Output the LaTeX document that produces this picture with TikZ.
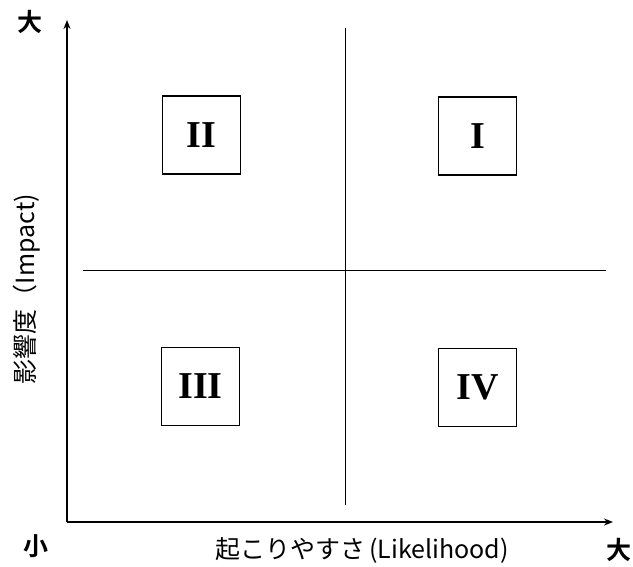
\documentclass[tikz,border=0pt]{standalone}
\usepackage{fontspec}
\setmainfont{Liberation Serif}
\newfontfamily\jpfont{Noto Sans CJK JP}[BoldFont={* Bold}]
\usetikzlibrary{arrows.meta}
\begin{document}
\begin{tikzpicture}[x=1pt,y=-1pt,
  axis/.style={line width=2.6pt,-{Stealth[length=9pt,width=7pt]}},
  divider/.style={line width=0.9pt},
  quadbox/.style={draw,line width=1.8pt,minimum width=78pt,minimum height=78pt,
    inner sep=0pt,font=\fontsize{38}{38}\selectfont\bfseries},
  axislabel/.style={font=\jpfont\fontsize{25}{25}\selectfont,inner sep=0pt},
  endlabel/.style={font=\jpfont\bfseries\fontsize{25}{25}\selectfont,inner sep=0pt}]
\useasboundingbox (0,0) rectangle (633,566);
% axes
\coordinate (origin) at (67,522);
\coordinate (ytip) at (67,20);
\coordinate (xtip) at (613,522);
\draw[axis] (origin) -- (ytip);
\draw[axis] (origin) -- (xtip);
% quadrant dividers
\coordinate (vtop) at (345,28);
\coordinate (vbot) at (345,505);
\coordinate (hleft) at (83,270);
\coordinate (hright) at (606,270);
\draw[divider] (vtop) -- (vbot);
\draw[divider] (hleft) -- (hright);
% quadrant labels
\node[quadbox] (q2) at (201.5,135) {II};
\node[quadbox] (q1) at (477.5,136) {I};
\node[quadbox] (q3) at (200.5,386.5) {III};
\node[quadbox] (q4) at (477.5,387.5) {IV};
% axis labels
\node[endlabel] (ymax) at (30,22) {大};
\node[endlabel] (xmin) at (36,546) {小};
\node[endlabel] (xmax) at (619,550) {大};
\node[axislabel] (xlabel) at (362,550) {起こりやすさ\,(Likelihood)};
\node[axislabel,rotate=90] (ylabel) at (27,289) {影響度（Impact)};
\end{tikzpicture}
\end{document}
